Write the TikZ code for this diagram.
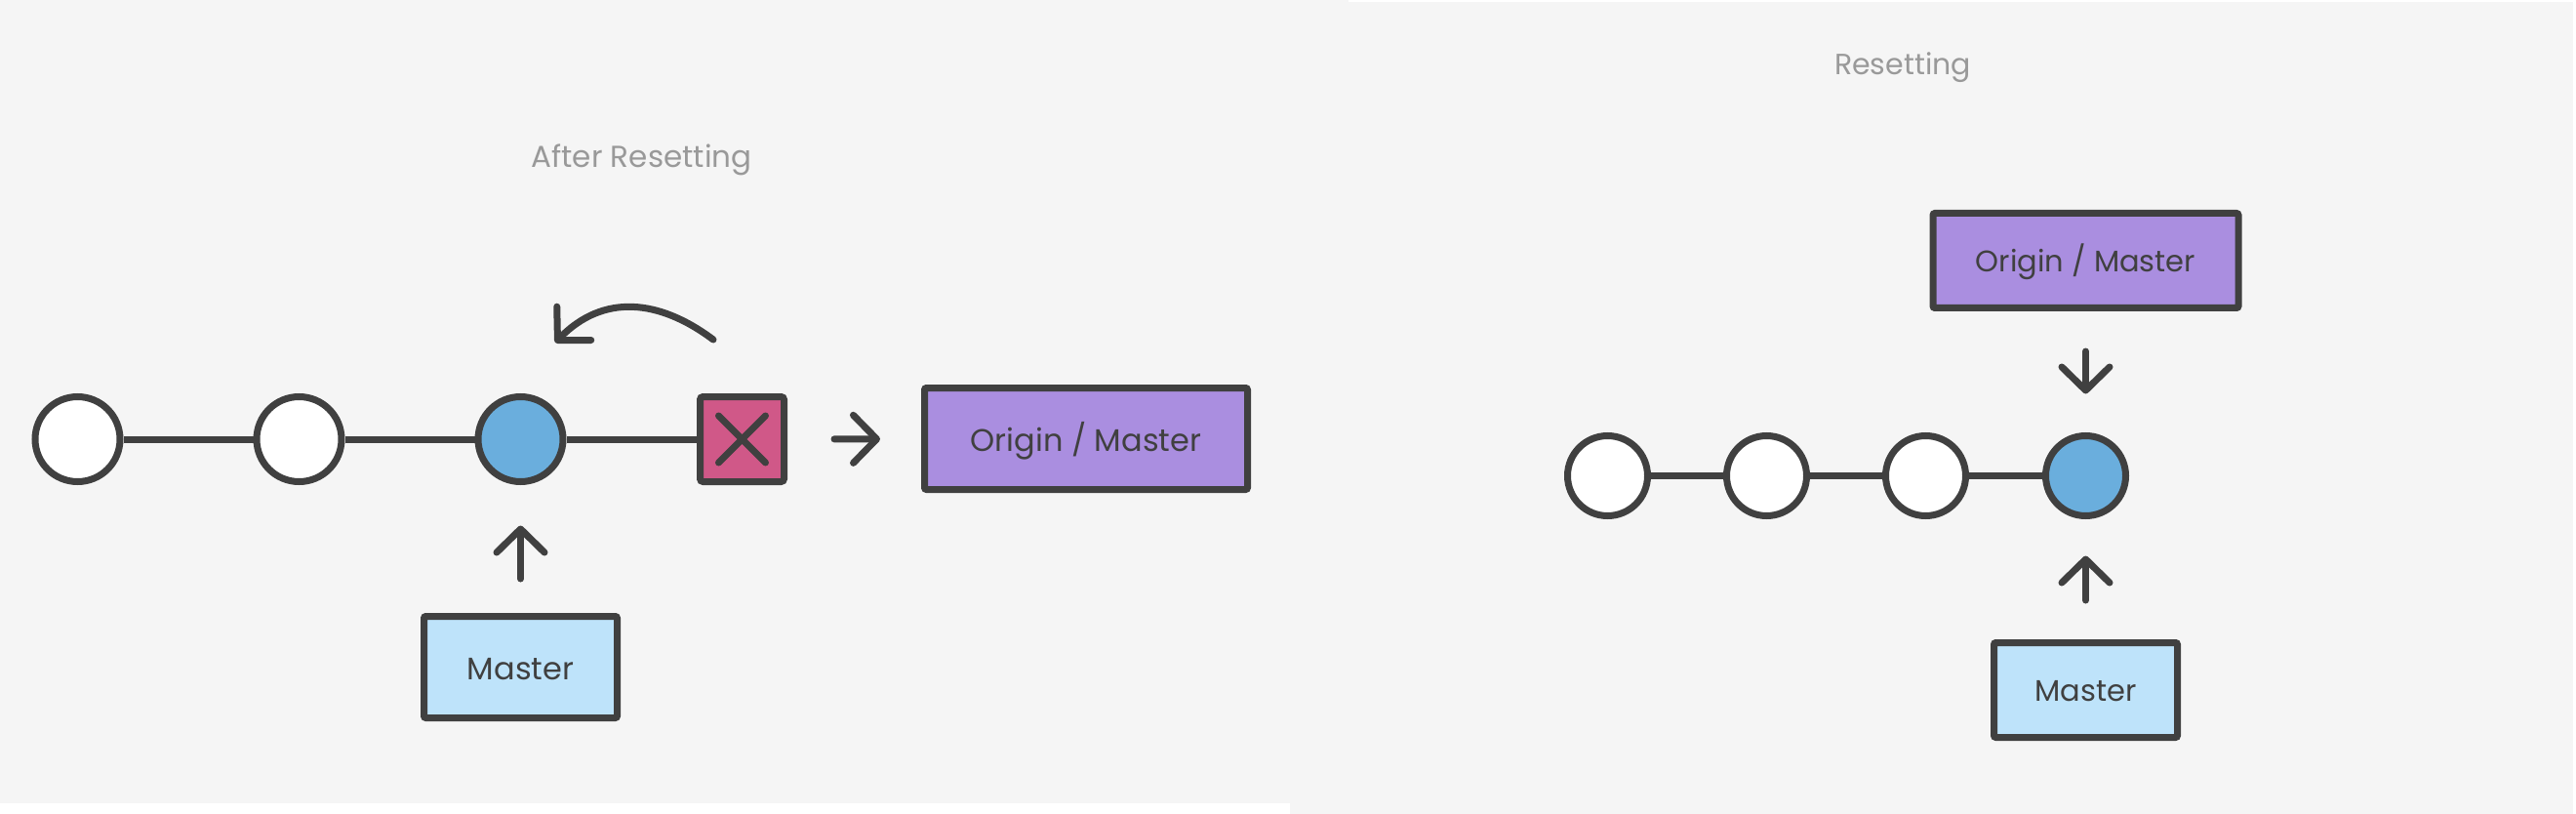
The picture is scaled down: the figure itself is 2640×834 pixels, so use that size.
\documentclass[tikz,border=0pt]{standalone}
\usepackage{fontspec}
\setmainfont{Poppins}
\usetikzlibrary{arrows.meta}
\definecolor{bgc}{HTML}{F5F5F5}
\definecolor{ink}{HTML}{404040}
\definecolor{blu}{HTML}{6AAEDD}
\definecolor{pnk}{HTML}{D05888}
\definecolor{prp}{HTML}{AA8EE0}
\definecolor{lbl}{HTML}{BEE3FA}
\definecolor{ttl}{HTML}{999999}
\begin{document}
\begin{tikzpicture}[x=1pt,y=-1pt,
  commitL/.style={circle,draw=ink,line width=7pt,fill=white,inner sep=0pt,minimum size=87pt},
  commitR/.style={circle,draw=ink,line width=7pt,fill=white,inner sep=0pt,minimum size=82pt},
  refbox/.style={rectangle,draw=ink,line width=7pt,rounded corners=2pt,inner sep=0pt,text=ink,text depth=0pt},
  bigtxt/.style={font=\fontsize{32}{38}\selectfont,text height=26.5pt},
  smalltxt/.style={font=\fontsize{30.5}{36}\selectfont,text height=23.5pt},
  xbox/.style={rectangle,draw=ink,fill=pnk,line width=7pt,rounded corners=3pt,inner sep=0pt,
    minimum width=86pt,minimum height=87pt,
    path picture={\draw[ink,line width=7pt,line cap=round]
      ([shift={(-24pt,-24pt)}]path picture bounding box.center) -- ([shift={(24pt,24pt)}]path picture bounding box.center)
      ([shift={(24pt,-24pt)}]path picture bounding box.center) -- ([shift={(-24pt,24pt)}]path picture bounding box.center);}},
  link/.style={draw=ink,line width=7pt},
  ptr/.style={draw=ink,line width=7pt,line cap=round,-{Straight Barb[length=24pt,width=49pt,round]}},
  heading/.style={text=ttl,anchor=base,inner sep=0pt}
]
\useasboundingbox (0,0) rectangle (2640,834);
\fill[white] (0,0) rectangle (2640,834);
\fill[bgc] (0,0) rectangle (1382,823);
\fill[bgc] (1322,2) rectangle (2637,834);

% ---------- left panel ----------
\node[heading,font=\fontsize{31}{37}\selectfont] (tA) at (657.5,172) {After Resetting};
\node[commitL] (a1) at (79.5,450) {};
\node[commitL] (a2) at (306.5,450) {};
\node[commitL,fill=blu] (a3) at (533.5,450) {};
\node[xbox] (ax) at (760.5,450) {};
\node[refbox,bigtxt,fill=prp,minimum width=331pt,minimum height=104pt] (ao) at (1113,449.5) {Origin / Master};
\node[refbox,bigtxt,fill=lbl,minimum width=198pt,minimum height=104pt] (am) at (533.5,683.5) {Master};
\draw[link] (a1) -- (a2);
\draw[link] (a2) -- (a3);
\draw[link] (a3) -- (ax);
\draw[ptr,shorten <=48pt,shorten >=42pt] (ax) -- (ao);
\draw[ptr,shorten <=35pt,shorten >=41.5pt] (am) -- (a3);
\coordinate (cs) at (731,348);
\coordinate (ce) at (569,351);
\draw[ptr] (cs) .. controls (675,306) and (618,301) .. (ce);

% ---------- right panel ----------
\node[heading,font=\fontsize{30}{36}\selectfont] (tB) at (1950,77) {Resetting};
\node[commitR] (b1) at (1647.5,487.5) {};
\node[commitR] (b2) at (1810.5,487.5) {};
\node[commitR] (b3) at (1973.5,487.5) {};
\node[commitR,fill=blu] (b4) at (2137.5,487.5) {};
\node[refbox,smalltxt,fill=prp,minimum width=313pt,minimum height=97pt] (bo) at (2137.5,267) {Origin / Master};
\node[refbox,smalltxt,fill=lbl,minimum width=188pt,minimum height=97pt] (bm) at (2137.5,707) {Master};
\draw[link] (b1) -- (b2);
\draw[link] (b2) -- (b3);
\draw[link] (b3) -- (b4);
\draw[ptr,shorten <=41pt,shorten >=39.5pt] (bo) -- (b4);
\draw[ptr,shorten <=40pt,shorten >=37.5pt] (bm) -- (b4);
\end{tikzpicture}
\end{document}
